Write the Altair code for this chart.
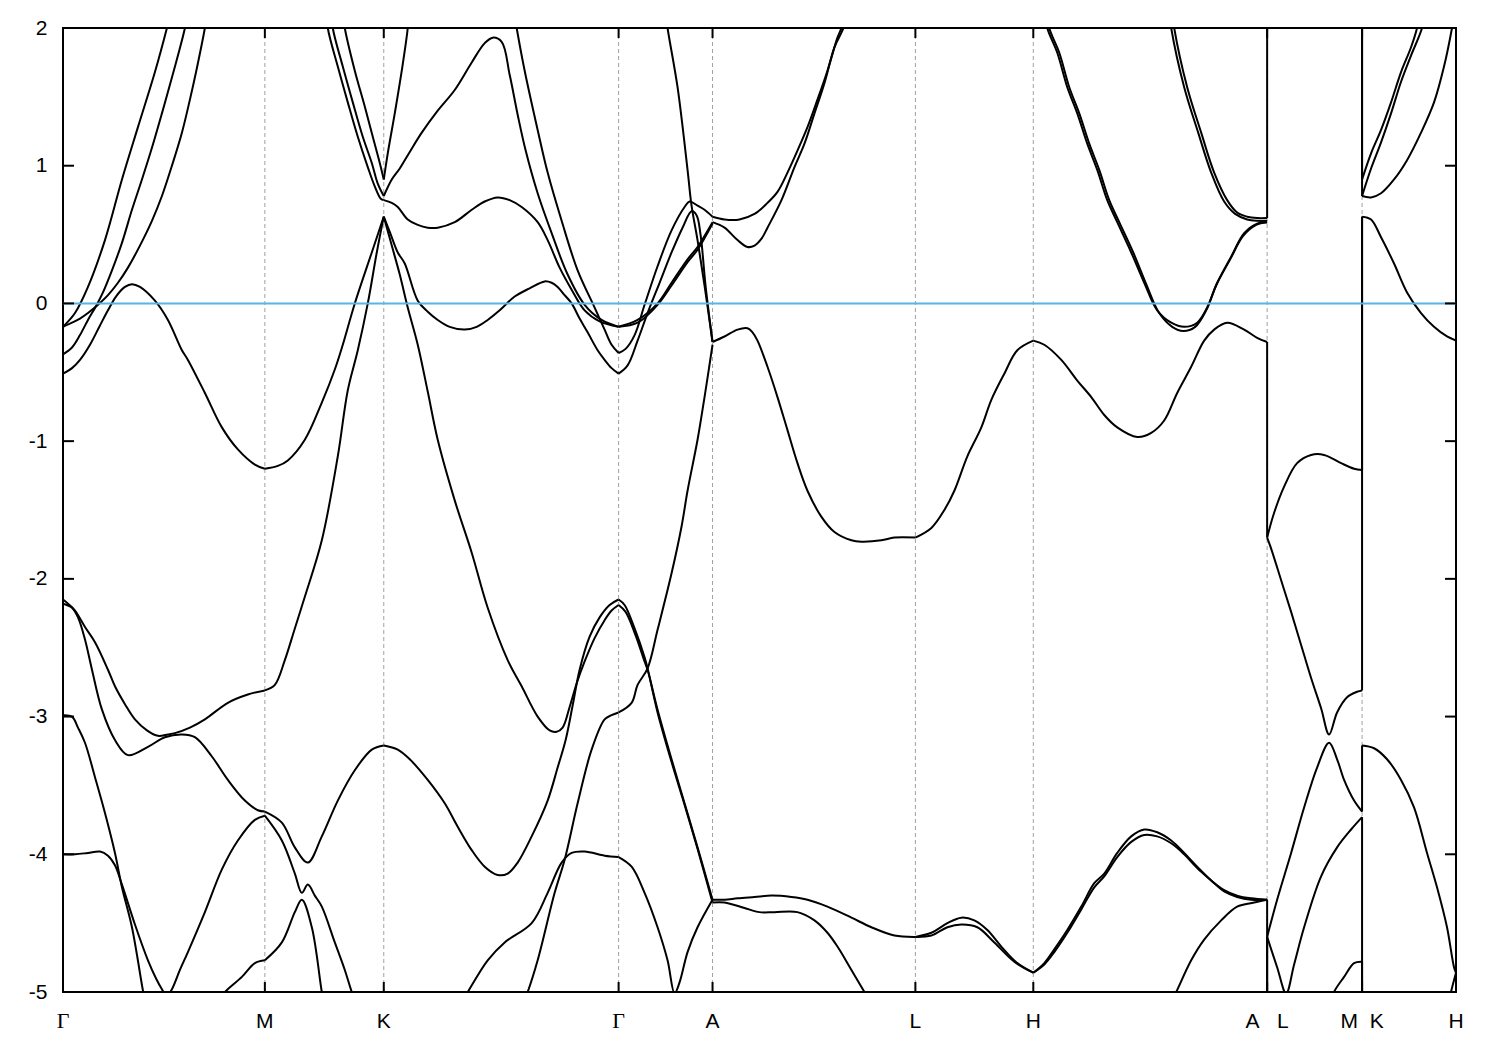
import altair as alt
import pandas as pd

# ---- high-symmetry path -------------------------------------------------
kpts = [0.0, 2.02, 3.21, 5.56, 6.50, 8.53, 9.71, 12.05, 13.00, 13.94]
klabels = ["Γ", "M", "K", "Γ", "A", "L", "H", "A\u00a0\u00a0\u00a0L", "M\u00a0\u00a0K", "H"]
yticks = [2, 1, 0, -1, -2, -3, -4, -5]

# ---- bands (k, E in eV) -------------------------------------------------
b01_k = [0.00, 0.12, 0.25, 0.42, 0.59, 0.75, 0.92, 1.04, 1.09]
b01_e = [-0.17, -0.07, 0.12, 0.46, 0.90, 1.28, 1.68, 2.00, 2.15]

b02_k = [0.00, 0.09, 0.17, 0.25, 0.35, 0.45, 0.55, 0.65, 0.77, 0.89, 0.99, 1.09, 1.19, 1.27, 1.34, 1.42, 1.45]
b02_e = [-0.17, -0.14, -0.11, -0.07, -0.01, 0.06, 0.15, 0.26, 0.42, 0.60, 0.78, 1.00, 1.24, 1.48, 1.71, 2.00, 2.13]

b03_k = [0.00, 0.09, 0.17, 0.25, 0.33, 0.40, 0.49, 0.59, 0.69, 0.79, 0.89, 0.99, 1.09, 1.15, 1.22, 1.25]
b03_e = [-0.37, -0.32, -0.23, -0.12, -0.02, 0.08, 0.24, 0.44, 0.68, 0.90, 1.13, 1.38, 1.64, 1.80, 2.00, 2.13]

b04_k = [0, 0.09, 0.17, 0.27, 0.37, 0.45, 0.53, 0.62, 0.69, 0.77, 0.92, 1.05, 1.19, 1.25, 1.42, 1.59, 1.75, 1.92, 2.02,
         2.15, 2.25, 2.42, 2.59, 2.72, 2.80, 2.92, 3.09, 3.21,
         3.27, 3.35, 3.42, 3.55, 3.65, 3.75, 3.87, 4.02, 4.14, 4.25, 4.37, 4.52, 4.67, 4.82, 4.89, 4.95, 5.02, 5.09,
         5.17, 5.25, 5.35, 5.42, 5.49, 5.56,
         5.65, 5.75, 5.85, 5.97, 6.09, 6.20, 6.29, 6.34, 6.38, 6.43, 6.50,
         6.62, 6.75, 6.85, 6.90, 6.95, 7.05, 7.15, 7.25, 7.35, 7.45, 7.59, 7.72, 7.89, 7.99, 8.19, 8.32, 8.53,
         8.69, 8.82, 8.92, 9.05, 9.19, 9.29, 9.42, 9.55, 9.71,
         9.82, 9.99, 10.15, 10.29, 10.42, 10.55, 10.75, 10.89, 11.02, 11.15, 11.29, 11.42, 11.52, 11.65, 11.82, 11.95, 12.05,
         12.05, 12.12, 12.22, 12.35, 12.49, 12.62, 12.79, 12.92, 13.00,
         13.00, 13.09, 13.19, 13.32, 13.45, 13.59, 13.72, 13.85, 13.94]
b04_e = [-0.51, -0.47, -0.41, -0.30, -0.16, -0.05, 0.05, 0.12, 0.14, 0.12, 0.02, -0.12, -0.34, -0.41, -0.65, -0.90, -1.06, -1.17, -1.20,
         -1.18, -1.14, -0.99, -0.72, -0.48, -0.30, 0.00, 0.37, 0.63,
         0.52, 0.37, 0.29, 0.02, -0.06, -0.12, -0.17, -0.19, -0.17, -0.12, -0.05, 0.05, 0.11, 0.16, 0.15, 0.12, 0.06, 0.00,
         -0.11, -0.21, -0.34, -0.41, -0.47, -0.51,
         -0.45, -0.27, -0.07, 0.15, 0.37, 0.55, 0.67, 0.64, 0.50, 0.13, -0.28,
         -0.24, -0.19, -0.18, -0.21, -0.27, -0.46, -0.68, -0.92, -1.16, -1.36, -1.55, -1.66, -1.72, -1.73, -1.72, -1.70, -1.70,
         -1.63, -1.50, -1.36, -1.11, -0.90, -0.70, -0.51, -0.34, -0.27,
         -0.30, -0.41, -0.56, -0.68, -0.81, -0.90, -0.97, -0.94, -0.85, -0.65, -0.46, -0.27, -0.19, -0.14, -0.19, -0.25, -0.28,
         -1.70, -1.52, -1.33, -1.16, -1.10, -1.10, -1.16, -1.20, -1.21,
         0.63, 0.61, 0.48, 0.29, 0.08, -0.07, -0.17, -0.24, -0.27]

b05_k = [0, 0.05, 0.12, 0.22, 0.32, 0.45, 0.52, 0.62, 0.72, 0.84, 0.95, 1.05, 1.12, 1.27, 1.42, 1.65, 1.85, 2.02,
         2.12, 2.22, 2.32, 2.42, 2.59, 2.75, 2.85, 2.95, 3.05, 3.14, 3.21,
         3.29, 3.37, 3.45, 3.55, 3.65, 3.75, 3.92, 4.09, 4.25, 4.45, 4.59, 4.75, 4.87, 4.94, 5.00, 5.07, 5.14, 5.22,
         5.32, 5.42, 5.49, 5.56,
         5.63, 5.73, 5.82, 5.85, 5.95, 6.09, 6.22, 6.35, 6.50,
         6.62, 6.75, 6.92, 7.09, 7.29, 7.45, 7.65, 7.89, 8.09, 8.32, 8.53,
         8.69, 8.85, 8.99, 9.12, 9.25, 9.39, 9.55, 9.71,
         9.82, 9.92, 10.05, 10.19, 10.32, 10.42, 10.55, 10.69, 10.82, 10.95, 11.09, 11.22, 11.35, 11.49, 11.62, 11.75,
         11.89, 12.05, 12.05]
b05_e = [-2.15, -2.18, -2.23, -2.35, -2.46, -2.66, -2.78, -2.91, -3.02, -3.10, -3.14, -3.13, -3.12, -3.08, -3.02, -2.90, -2.84, -2.81,
         -2.77, -2.59, -2.36, -2.13, -1.72, -1.11, -0.63, -0.34, 0.00, 0.37, 0.63,
         0.42, 0.21, -0.03, -0.30, -0.64, -0.99, -1.43, -1.81, -2.21, -2.59, -2.78, -3.00, -3.10, -3.11, -3.08, -2.93, -2.76, -2.60,
         -2.43, -2.30, -2.23, -2.19,
         -2.24, -2.41, -2.60, -2.66, -2.95, -3.31, -3.63, -3.95, -4.33,
         -4.33, -4.32, -4.31, -4.30, -4.31, -4.33, -4.38, -4.46, -4.53, -4.59, -4.60,
         -4.57, -4.50, -4.46, -4.48, -4.55, -4.67, -4.79, -4.86,
         -4.79, -4.69, -4.55, -4.38, -4.21, -4.14, -3.99, -3.87, -3.82, -3.84, -3.90, -3.99, -4.09, -4.19, -4.26, -4.30,
         -4.32, -4.33, -5.50]

b06_k = [0, 0.09, 0.15, 0.22, 0.29, 0.39, 0.52, 0.65, 0.85, 1.02, 1.19, 1.32, 1.49, 1.65, 1.82, 1.95, 2.02,
         2.19, 2.32, 2.45, 2.59, 2.75, 2.92, 3.09, 3.21,
         3.35, 3.47, 3.65, 3.82, 3.95, 4.09, 4.22, 4.35, 4.45, 4.55, 4.69, 4.85, 4.95, 5.03, 5.10, 5.17, 5.27, 5.37, 5.47, 5.56,
         5.62, 5.72, 5.82, 5.85, 5.95, 6.09, 6.22, 6.35, 6.50,
         6.62, 6.82, 6.97, 7.12, 7.35, 7.52, 7.65, 7.75, 7.89, 8.02, 8.07]
b06_e = [-2.18, -2.21, -2.28, -2.44, -2.66, -2.95, -3.17, -3.28, -3.22, -3.15, -3.13, -3.15, -3.29, -3.46, -3.61, -3.68, -3.69,
         -3.77, -3.95, -4.06, -3.87, -3.61, -3.39, -3.24, -3.21,
         -3.24, -3.31, -3.46, -3.63, -3.80, -3.97, -4.09, -4.15, -4.14, -4.06, -3.87, -3.61, -3.37, -3.17, -2.92, -2.66, -2.42, -2.28, -2.19, -2.15,
         -2.19, -2.36, -2.57, -2.65, -2.97, -3.33, -3.64, -3.96, -4.35,
         -4.35, -4.39, -4.42, -4.42, -4.42, -4.48, -4.57, -4.67, -4.84, -5.00, -5.06]

b07_k = [0, 0.12, 0.25, 0.37, 0.45, 0.52, 0.59, 0.72, 0.85, 0.93, 0.99, 1.04, 1.09, 1.17, 1.25, 1.42, 1.59, 1.75, 1.92, 2.02,
         2.19, 2.32, 2.39, 2.45, 2.52, 2.59, 2.72, 2.82, 2.89, 2.93]
b07_e = [-4.00, -4.00, -3.99, -3.98, -4.01, -4.08, -4.22, -4.51, -4.77, -4.90, -4.98, -5.03, -4.98, -4.84, -4.71, -4.42, -4.11, -3.90, -3.75, -3.72,
         -3.90, -4.14, -4.28, -4.22, -4.30, -4.38, -4.64, -4.84, -5.00, -5.07]

b08_k = [0, 0.09, 0.15, 0.22, 0.32, 0.42, 0.52, 0.59, 0.69, 0.80, 0.82]
b08_e = [-2.99, -3.00, -3.08, -3.19, -3.44, -3.70, -3.99, -4.24, -4.53, -4.99, -5.06]

b09_k = [1.55, 1.62, 1.79, 1.92, 2.02, 2.19, 2.32, 2.39, 2.49, 2.59, 2.61]
b09_e = [-5.06, -5.00, -4.89, -4.79, -4.77, -4.64, -4.42, -4.33, -4.53, -5.00, -5.07]

b10_k = [4.61, 4.65, 4.75, 4.92, 5.02, 5.15, 5.29, 5.42, 5.49, 5.56, 5.69, 5.75, 5.85, 5.95, 6.09, 6.19, 6.25, 6.35, 6.42, 6.50]
b10_e = [-5.07, -5.00, -4.77, -4.28, -4.04, -3.63, -3.24, -3.02, -2.99, -2.97, -2.90, -2.77, -2.65, -2.37, -1.96, -1.62, -1.36, -0.99, -0.68, -0.30]

b11_k = [3.99, 4.05, 4.25, 4.42, 4.69, 4.85, 4.99, 5.09, 5.22, 5.42, 5.56, 5.69, 5.82, 5.95, 6.05, 6.12, 6.17, 6.25, 6.35, 6.50]
b11_e = [-5.07, -5.00, -4.77, -4.64, -4.50, -4.28, -4.06, -3.99, -3.98, -4.01, -4.02, -4.09, -4.28, -4.53, -4.77, -5.01, -4.93, -4.71, -4.53, -4.33]

b12_k = [2.69, 2.70, 2.80, 2.90, 3.00, 3.09, 3.15, 3.21, 3.29, 3.37, 3.47, 3.59, 3.75, 3.92, 4.09, 4.22, 4.30, 4.39, 4.47, 4.55,
         4.63, 4.75, 4.89, 5.05, 5.22, 5.39, 5.56]
b12_e = [2.12, 2.00, 1.72, 1.46, 1.21, 1.02, 0.87, 0.78, 0.90, 0.98, 1.10, 1.24, 1.40, 1.55, 1.75, 1.89, 1.93, 1.90, 1.66, 1.37,
         1.11, 0.80, 0.51, 0.21, -0.01, -0.12, -0.17]

b13_k = [2.64, 2.65, 2.75, 2.85, 2.95, 3.05, 3.12, 3.18, 3.21, 3.29, 3.35, 3.45, 3.55, 3.65, 3.75, 3.92, 4.09, 4.22, 4.35, 4.47,
         4.59, 4.75, 4.85, 4.97, 5.09, 5.22, 5.37, 5.56, 5.75, 5.95, 6.09, 6.25, 6.35, 6.50, 6.62, 6.75, 6.85, 6.92, 6.99, 7.05,
         7.19, 7.32, 7.42, 7.52, 7.62, 7.72, 7.81, 7.85]
b13_e = [2.12, 2.00, 1.72, 1.46, 1.21, 0.99, 0.85, 0.76, 0.75, 0.73, 0.70, 0.61, 0.57, 0.55, 0.55, 0.59, 0.68, 0.74, 0.77, 0.75,
         0.70, 0.59, 0.46, 0.26, 0.10, -0.05, -0.13, -0.17, -0.12, 0.00, 0.15, 0.32, 0.41, 0.59, 0.55, 0.46, 0.41, 0.42, 0.47, 0.55,
         0.75, 0.99, 1.16, 1.38, 1.60, 1.86, 2.00, 2.12]

b14_k = [4.52, 4.54, 4.62, 4.75, 4.85, 4.99, 5.15, 5.32, 5.42, 5.49, 5.56, 5.63, 5.72, 5.82, 5.95, 6.09, 6.22, 6.27, 6.35, 6.42,
         6.50, 6.62, 6.77, 6.92, 7.05, 7.15, 7.25, 7.35, 7.45, 7.55, 7.65, 7.75, 7.79, 7.82]
b14_e = [2.09, 2.00, 1.69, 1.26, 0.95, 0.60, 0.24, -0.03, -0.19, -0.30, -0.36, -0.33, -0.23, -0.01, 0.27, 0.53, 0.70, 0.74, 0.71, 0.68,
         0.63, 0.61, 0.61, 0.65, 0.73, 0.81, 0.95, 1.11, 1.28, 1.48, 1.69, 1.93, 2.00, 2.09]

b15_k = [6.03, 6.05, 6.15, 6.25, 6.29, 6.35, 6.42, 6.50]
b15_e = [2.12, 2.00, 1.57, 0.97, 0.71, 0.46, 0.13, -0.28]

b16_k = [2.80, 2.82, 2.92, 3.02, 3.10, 3.17, 3.21, 3.25, 3.32, 3.39, 3.45, 3.46]
b16_e = [2.12, 2.00, 1.69, 1.43, 1.21, 1.02, 0.90, 1.09, 1.38, 1.69, 2.00, 2.12]

b17_k = [5.56, 5.75, 5.95, 6.09, 6.25, 6.35, 6.50]
b17_e = [-0.17, -0.14, -0.01, 0.13, 0.30, 0.39, 0.58]

b18_k = [13.00, 13.00, 13.09, 13.19, 13.29, 13.39, 13.49, 13.55, 13.57]
b18_e = [2.30, 0.90, 1.09, 1.26, 1.46, 1.68, 1.86, 2.00, 2.09]

b19_k = [13.00, 13.00, 13.09, 13.19, 13.29, 13.39, 13.49, 13.60, 13.62]
b19_e = [2.30, 0.78, 0.98, 1.17, 1.38, 1.61, 1.80, 2.00, 2.09]

b20_k = [13.00, 13.09, 13.19, 13.32, 13.45, 13.59, 13.72, 13.82, 13.90, 13.92]
b20_e = [0.78, 0.77, 0.80, 0.90, 1.04, 1.24, 1.46, 1.72, 2.00, 2.09]

b21_k = [11.10, 11.12, 11.25, 11.39, 11.52, 11.65, 11.75, 11.85, 11.95, 12.05, 12.05]
b21_e = [2.12, 2.00, 1.57, 1.24, 0.95, 0.75, 0.66, 0.63, 0.62, 0.62, 2.30]

b22_k = [11.07, 11.09, 11.22, 11.36, 11.49, 11.62, 11.73, 11.85, 11.95, 12.05]
b22_e = [2.12, 2.00, 1.57, 1.24, 0.95, 0.74, 0.65, 0.61, 0.60, 0.60]

b23_k = [9.83, 9.85, 9.95, 10.05, 10.15, 10.25, 10.35, 10.45, 10.55, 10.69, 10.82, 10.95, 11.09, 11.22, 11.35, 11.45,
         11.55, 11.69, 11.82, 11.95, 12.05]
b23_e = [2.12, 2.00, 1.82, 1.57, 1.38, 1.16, 0.97, 0.75, 0.59, 0.37, 0.15, -0.05, -0.14, -0.17, -0.14, -0.03,
         0.15, 0.34, 0.51, 0.58, 0.59]

b24_k = [9.85, 9.87, 9.97, 10.07, 10.17, 10.27, 10.37, 10.47, 10.57, 10.71, 10.84, 10.97, 11.10, 11.21, 11.33, 11.44,
         11.54, 11.68, 11.81, 11.94, 12.05]
b24_e = [2.12, 2.00, 1.82, 1.57, 1.38, 1.16, 0.97, 0.75, 0.59, 0.37, 0.14, -0.07, -0.17, -0.20, -0.17, -0.05,
         0.13, 0.32, 0.49, 0.57, 0.59]

b25_k = [8.53, 8.69, 8.85, 8.99, 9.15, 9.32, 9.52, 9.71, 9.82, 9.92, 10.05, 10.19, 10.32, 10.42, 10.55, 10.69, 10.82,
         10.95, 11.09, 11.22, 11.35, 11.49, 11.62, 11.75, 11.89, 12.05]
b25_e = [-4.60, -4.59, -4.53, -4.51, -4.53, -4.64, -4.78, -4.86, -4.80, -4.71, -4.57, -4.40, -4.24, -4.16, -4.02, -3.91, -3.86,
         -3.87, -3.92, -4.00, -4.10, -4.19, -4.27, -4.31, -4.33, -4.33]

b26_k = [11.09, 11.14, 11.29, 11.42, 11.59, 11.75, 11.92, 12.05]
b26_e = [-5.07, -5.00, -4.77, -4.62, -4.48, -4.38, -4.35, -4.33]

b27_k = [12.05, 12.05, 12.15, 12.29, 12.42, 12.55, 12.67, 12.75, 12.82, 12.92, 13.00,
         13.00, 13.12, 13.25, 13.39, 13.52, 13.65, 13.75, 13.85, 13.92, 13.94]
b27_e = [-5.50, -4.60, -4.33, -3.99, -3.66, -3.37, -3.19, -3.31, -3.46, -3.61, -3.69,
         -3.21, -3.23, -3.31, -3.46, -3.66, -3.99, -4.24, -4.53, -4.82, -4.86]

b28_k = [12.05, 12.15, 12.24, 12.32, 12.42, 12.59, 12.75, 12.89, 13.00, 13.00]
b28_e = [-4.60, -4.82, -5.01, -4.80, -4.53, -4.16, -3.95, -3.82, -3.73, -5.50]

b29_k = [12.05, 12.09, 12.19, 12.29, 12.39, 12.49, 12.59, 12.67, 12.75, 12.85, 12.95, 13.00, 13.00]
b29_e = [-1.70, -1.78, -2.01, -2.24, -2.48, -2.72, -2.94, -3.13, -2.97, -2.86, -2.82, -2.81, 0.63]

b30_k = [12.70, 12.72, 12.82, 12.92, 13.00, 13.00]
b30_e = [-5.07, -5.00, -4.89, -4.79, -4.78, -5.50]

b31_k = [13.87, 13.89, 13.94]
b31_e = [-5.07, -5.00, -4.86]

bands = [
    (b01_k, b01_e), (b02_k, b02_e), (b03_k, b03_e), (b04_k, b04_e), (b05_k, b05_e),
    (b06_k, b06_e), (b07_k, b07_e), (b08_k, b08_e), (b09_k, b09_e), (b10_k, b10_e),
    (b11_k, b11_e), (b12_k, b12_e), (b13_k, b13_e), (b14_k, b14_e), (b15_k, b15_e),
    (b16_k, b16_e), (b17_k, b17_e), (b18_k, b18_e), (b19_k, b19_e), (b20_k, b20_e),
    (b21_k, b21_e), (b22_k, b22_e), (b23_k, b23_e), (b24_k, b24_e), (b25_k, b25_e),
    (b26_k, b26_e), (b27_k, b27_e), (b28_k, b28_e), (b29_k, b29_e), (b30_k, b30_e),
    (b31_k, b31_e),
]

# split each band into smooth pieces: break at high-symmetry points (sharp kinks)
# and draw path discontinuities as straight vertical jumps
kset = {round(k, 2) for k in kpts[1:-1]}
rows = []
for bi, (ks, es) in enumerate(bands):
    pts = list(zip(ks, es))
    cur = [pts[0]]
    pieces = []
    for p, q in zip(pts[:-1], pts[1:]):
        if q[0] == p[0]:
            if len(cur) > 1:
                pieces.append(cur)
            pieces.append([p, q])
            cur = [q]
        else:
            cur.append(q)
            if round(q[0], 2) in kset:
                pieces.append(cur)
                cur = [q]
    if len(cur) > 1:
        pieces.append(cur)
    for pi, pc in enumerate(pieces):
        for i, (k, e) in enumerate(pc):
            rows.append({"band": f"b{bi:02d}_{pi}", "k": k, "E": e, "o": i})
df = pd.DataFrame(rows)

W, H = 1393, 964
xs = alt.Scale(domain=[0, 13.94], nice=False, zero=False)
ys = alt.Scale(domain=[-5, 2], nice=False, zero=False)

yaxis = alt.Axis(values=yticks, tickSize=0, labelPadding=16, domain=False, grid=False,
                 labelFontSize=21, labelFont="Liberation Sans", labelColor="black",
                 labelExpr="'' + datum.value", title=None)
X = alt.X("k:Q", scale=xs, axis=None, title=None)
Y = alt.Y("E:Q", scale=ys, axis=yaxis, title=None)

inner = pd.DataFrame({"k": kpts[1:-1]})
grid = alt.Chart(inner).mark_rule(color="#a0a0a0", strokeDash=[4, 3], strokeWidth=1).encode(x=X)

lines = alt.Chart(df).mark_line(color="black", strokeWidth=2, clip=True, interpolate="catmull-rom").encode(
    x=X, y=Y, detail="band:N", order="o:Q")

zero = alt.Chart(pd.DataFrame({"E": [0]})).mark_rule(color="#56B4E9", strokeWidth=2).encode(y=Y)

tick_style = dict(color="black", strokeWidth=2)
bt = alt.Chart(inner).mark_rule(**tick_style).encode(x=X, y=alt.value(H), y2=alt.value(H - 10))
tt = alt.Chart(inner).mark_rule(**tick_style).encode(x=X, y=alt.value(0), y2=alt.value(10))
yin = pd.DataFrame({"E": yticks[1:-1]})
lt = alt.Chart(yin).mark_rule(**tick_style).encode(y=Y, x=alt.value(0), x2=alt.value(11))
rt = alt.Chart(yin).mark_rule(**tick_style).encode(y=Y, x=alt.value(W - 11), x2=alt.value(W))

lab = pd.DataFrame({"k": kpts, "lab": klabels})
lab_sans = alt.Chart(lab).transform_filter("datum.lab != 'Γ'").mark_text(
    font="Liberation Sans", fontSize=21, color="black", align="center", baseline="alphabetic"
).encode(x=X, y=alt.value(H + 36), text="lab:N")
lab_serif = alt.Chart(lab).transform_filter("datum.lab == 'Γ'").mark_text(
    font="Liberation Serif", fontSize=22, color="black", align="center", baseline="alphabetic"
).encode(x=X, y=alt.value(H + 36), text="lab:N")

chart = alt.layer(grid, lines, zero, bt, tt, lt, rt, lab_sans, lab_serif).properties(
    width=W, height=H,
    autosize=alt.AutoSizeParams(type="none"),
    padding={"left": 55, "top": 20, "right": 30, "bottom": 50},
    background="white",
).configure_view(stroke="black", strokeWidth=2)

chart.save("out.html", embed_options={"renderer": "svg", "actions": False})
